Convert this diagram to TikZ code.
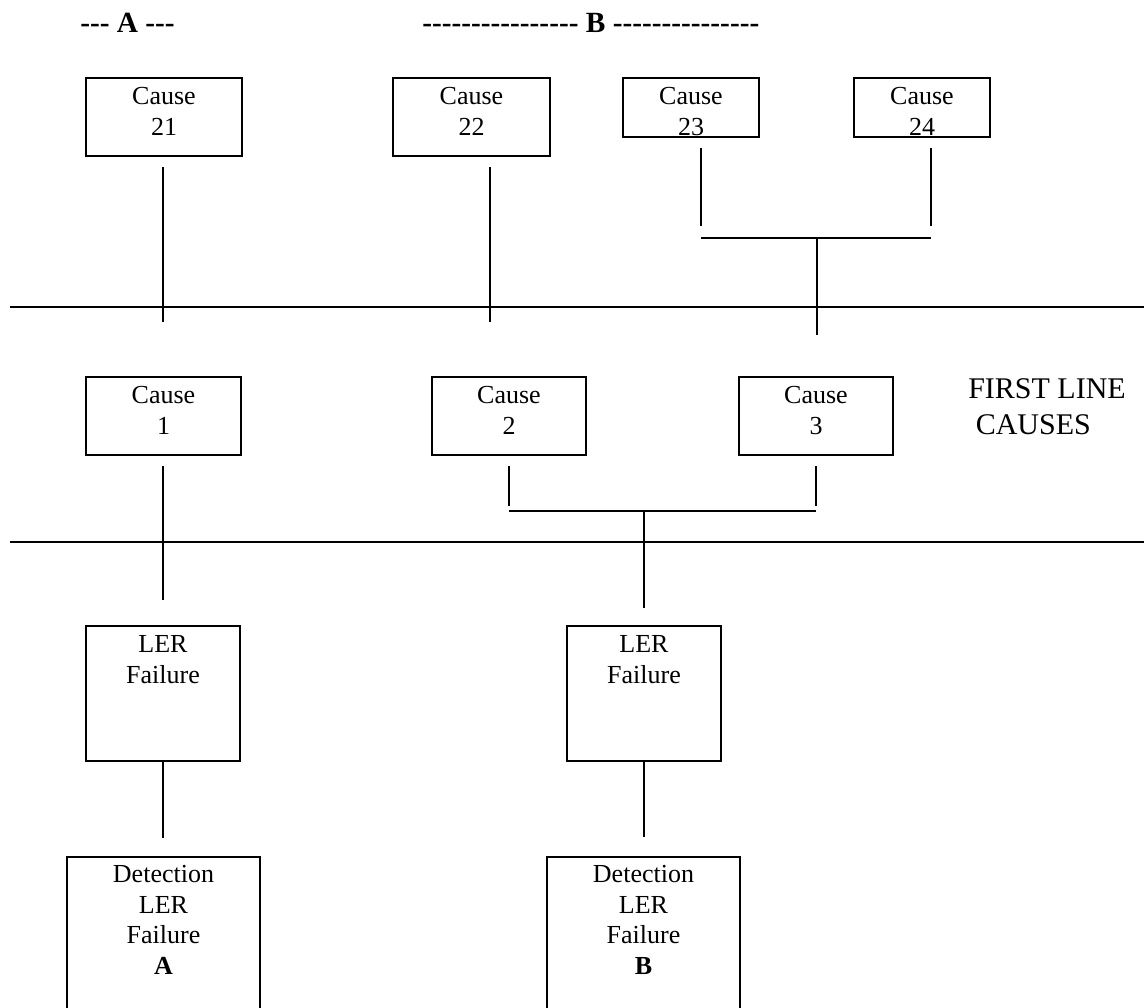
\documentclass[tikz,border=0pt]{standalone}
\usepackage{fontspec}
\setmainfont{Liberation Serif}
\usetikzlibrary{positioning}

\newcommand\dashrun[1]{\foreach \k in {1,...,#1}{\hbox{-}}}

\tikzset{
  box/.style 2 args={draw, line width=1.4pt, inner sep=0pt, outer sep=0pt, anchor=north west,
    minimum width=#1*0.75pt, minimum height=#2*0.75pt},
  boxtext/.style={inner sep=0pt, align=center, font=\fontsize{19.5}{23}\selectfont},
  headtext/.style={inner sep=0pt, anchor=base west, font=\fontsize{22}{26}\selectfont\bfseries},
  conn/.style={line width=1.2pt},
  longline/.style={line width=1.6pt},
}

\begin{document}
\begin{tikzpicture}[x=0.75pt,y=0.75pt,yscale=-1,xscale=1]
\useasboundingbox (0,0) rectangle (1144,1007);
\clip (0,0) rectangle (1144,1007);

% Text Node
\node [headtext] (hdA) at (80,32) {\dashrun{3} A \dashrun{3}};
% Text Node
\node [headtext] (hdB) at (422,32) {\dashrun{16} B \dashrun{15}};

%Shape: Rectangle
\node [box={156}{78}] (c21) at (86,78) {};
\node [box={157}{78}] (c22) at (393,78) {};
\node [box={136}{59}] (c23) at (623,78) {};
\node [box={136}{59}] (c24) at (854,78) {};
% Text Node
\node [boxtext, below=7pt of c21.north] (t21) {Cause\\21};
\node [boxtext, below=7pt of c22.north] (t22) {Cause\\22};
\node [boxtext, below=7pt of c23.north] (t23) {Cause\\23};
\node [boxtext, below=7pt of c24.north] (t24) {Cause\\24};

%Straight Lines
\coordinate (j21a) at (163,167); \coordinate (j21b) at (163,322);
\coordinate (j22a) at (490,167); \coordinate (j22b) at (490,322);
\coordinate (j23a) at (701,148); \coordinate (j23b) at (701,226);
\coordinate (j24a) at (931,148); \coordinate (j24b) at (931,226);
\coordinate (bar23) at (701,238); \coordinate (bar24) at (931,238);
\coordinate (barmid) at (817,238); \coordinate (j3top) at (817,335);
\draw [conn] (j21a) -- (j21b);
\draw [conn] (j22a) -- (j22b);
\draw [conn] (j23a) -- (j23b);
\draw [conn] (j24a) -- (j24b);
\draw [conn] (bar23) -- (bar24);
\draw [conn] (barmid) -- (j3top);

\coordinate (ruleAa) at (10,307); \coordinate (ruleAb) at (1144,307);
\draw [longline] (ruleAa) -- (ruleAb);

%Shape: Rectangle
\node [box={155}{78}] (c1) at (86,377) {};
\node [box={154}{78}] (c2) at (432,377) {};
\node [box={154}{78}] (c3) at (739,377) {};
% Text Node
\node [boxtext, below=7pt of c1.north] (t1) {Cause\\1};
\node [boxtext, below=7pt of c2.north] (t2) {Cause\\2};
\node [boxtext, below=7pt of c3.north] (t3) {Cause\\3};
% Text Node
\node [inner sep=0pt, anchor=north west, align=left, font=\fontsize{22.5}{27}\selectfont]
  (flc) at (968,378) {FIRST LINE\\\hspace*{0.25em}CAUSES};

%Straight Lines
\coordinate (j1a) at (163,466); \coordinate (j1b) at (163,600);
\coordinate (j2a) at (509,466); \coordinate (j2b) at (509,506);
\coordinate (j3a) at (816,466); \coordinate (j3b) at (816,506);
\coordinate (bar2) at (509,511); \coordinate (bar3) at (816,511);
\coordinate (barlow) at (644,511); \coordinate (jBtop) at (644,608);
\draw [conn] (j1a) -- (j1b);
\draw [conn] (j2a) -- (j2b);
\draw [conn] (j3a) -- (j3b);
\draw [conn] (bar2) -- (bar3);
\draw [conn] (barlow) -- (jBtop);

\coordinate (ruleBa) at (10,542); \coordinate (ruleBb) at (1144,542);
\draw [longline] (ruleBa) -- (ruleBb);

%Shape: Rectangle
\node [box={154}{135}] (lerA) at (86,626) {};
\node [box={154}{135}] (lerB) at (567,626) {};
% Text Node
\node [boxtext, below=7pt of lerA.north] (tlerA) {LER\\Failure};
\node [boxtext, below=7pt of lerB.north] (tlerB) {LER\\Failure};

%Straight Lines
\coordinate (dAtop) at (163,838); \coordinate (dBtop) at (644,837);
\draw [conn] (lerA.south) -- (dAtop);
\draw [conn] (lerB.south) -- (dBtop);

%Shape: Rectangle
\node [box={193}{200}] (detA) at (67,857) {};
\node [box={193}{200}] (detB) at (547,857) {};
% Text Node
\node [boxtext, below=6pt of detA.north] (tdetA) {Detection\\LER\\Failure\\\textbf{A}};
\node [boxtext, below=6pt of detB.north] (tdetB) {Detection\\LER\\Failure\\\textbf{B}};

\end{tikzpicture}
\end{document}
